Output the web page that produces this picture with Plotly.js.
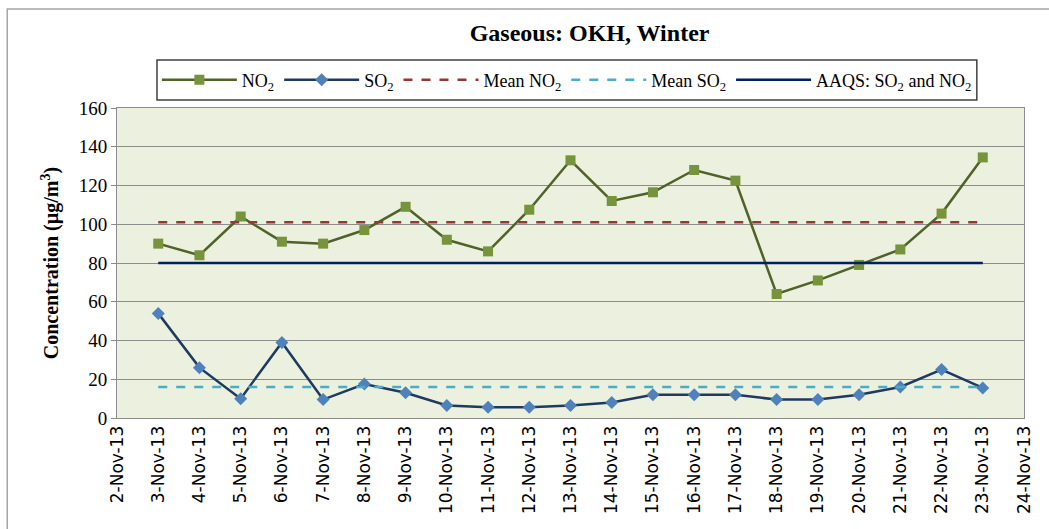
<!DOCTYPE html>
<html>
<head>
<meta charset="utf-8">
<script src="https://cdn.plot.ly/plotly-3.0.1.min.js"></script>
<style>
  html, body { margin: 0; padding: 0; background: #fff; }
  #myDiv { width: 1049px; height: 529px; }
</style>
</head>
<body>
<div id="myDiv"></div>
<script>
// all dates on the axis, 2-Nov-13 .. 24-Nov-13
const allDates = [
  "2-Nov-13", "3-Nov-13", "4-Nov-13", "5-Nov-13", "6-Nov-13", "7-Nov-13",
  "8-Nov-13", "9-Nov-13", "10-Nov-13", "11-Nov-13", "12-Nov-13", "13-Nov-13",
  "14-Nov-13", "15-Nov-13", "16-Nov-13", "17-Nov-13", "18-Nov-13", "19-Nov-13",
  "20-Nov-13", "21-Nov-13", "22-Nov-13", "23-Nov-13", "24-Nov-13"
];
// sampled days
const dates = allDates.slice(1, 22);

const no2 = [90, 84, 104, 91, 90, 97, 109, 92, 86, 107.5, 133, 112, 116.5, 128, 122.5, 64, 71, 79, 87, 105.5, 134.5];
const so2 = [54, 26, 10, 39, 9.5, 17.5, 13, 6.5, 5.5, 5.5, 6.5, 8, 12, 12, 12, 9.5, 9.5, 12, 16, 25, 15.5];

const meanNO2 = 101;
const meanSO2 = 16;
const aaqs = 80;

const serif = "Liberation Serif, Times New Roman, serif";

const trace1 = {
  x: dates,
  y: no2,
  type: "scatter",
  mode: "lines+markers",
  name: "NO<sub>2</sub>",
  line: { color: "#4F6228", width: 2.5 },
  marker: { symbol: "square", size: 10, color: "#77933C" },
};

const trace2 = {
  x: dates,
  y: so2,
  type: "scatter",
  mode: "lines+markers",
  name: "SO<sub>2</sub>",
  line: { color: "#1F3A5F", width: 2.5 },
  marker: { symbol: "diamond", size: 10, color: "#4F81BD" },
};

const trace3 = {
  x: dates,
  y: dates.map(() => meanNO2),
  type: "scatter",
  mode: "lines",
  name: "Mean NO<sub>2</sub>",
  line: { color: "#953735", width: 2.5, dash: "dash" },
};

const trace4 = {
  x: dates,
  y: dates.map(() => meanSO2),
  type: "scatter",
  mode: "lines",
  name: "Mean SO<sub>2</sub>",
  line: { color: "#4BACC6", width: 2.5, dash: "dash" },
};

const trace5 = {
  x: dates,
  y: dates.map(() => aaqs),
  type: "scatter",
  mode: "lines",
  name: "AAQS: SO<sub>2</sub> and NO<sub>2</sub>",
  line: { color: "#002060", width: 2.5 },
};

const data = [trace1, trace2, trace3, trace4, trace5];

const layout = {
  width: 1049,
  height: 529,
  margin: { l: 117, r: 25, t: 108, b: 111 },
  paper_bgcolor: "#ffffff",
  plot_bgcolor: "#EBF1DE",
  showlegend: true,
  title: {
    text: "<b>Gaseous: OKH, Winter</b>",
    font: { family: serif, size: 24, color: "#000" },
    xref: "paper",
    x: 0.521,
    xanchor: "center",
    y: 0.938,
    yanchor: "middle",
  },
  legend: {
    orientation: "h",
    x: 0.496,
    xanchor: "center",
    y: 1.09,
    yanchor: "middle",
    borderwidth: 0,
    bgcolor: "rgba(0,0,0,0)",
    font: { family: serif, size: 18, color: "#000" },
    itemwidth: 75,
  },
  xaxis: {
    type: "category",
    categoryorder: "array",
    categoryarray: allDates,
    tickvals: allDates,
    range: [0, 22],
    tickangle: -90,
    tickfont: { family: "DejaVu Sans, Tahoma, sans-serif", size: 17, color: "#000" },
    showgrid: false,
    showline: true,
    linecolor: "#8C8C8C",
    linewidth: 1,
    mirror: true,
    ticks: "",
    zeroline: false,
  },
  yaxis: {
    range: [0, 160],
    dtick: 20,
    tickfont: { family: serif, size: 19, color: "#000" },
    showgrid: true,
    gridcolor: "#8C8C8C",
    gridwidth: 1,
    showline: true,
    linecolor: "#8C8C8C",
    linewidth: 1,
    mirror: true,
    ticks: "outside",
    ticklen: 5,
    tickcolor: "#8C8C8C",
    zeroline: false,
    title: {
      text: "<b>Concentration (µg/m<sup>3</sup>)</b>",
      font: { family: serif, size: 20, color: "#000" },
      standoff: 14,
    },
  },
  shapes: [
    {
      // outer chart frame
      type: "rect",
      xref: "paper",
      yref: "paper",
      x0: -0.121,
      x1: 1.2,
      y0: -0.5,
      y1: 1.3195,
      line: { color: "#A6A6A6", width: 1.5 },
      layer: "below",
    },
    {
      // legend box
      type: "rect",
      xref: "paper",
      yref: "paper",
      x0: 0.0441,
      x1: 0.948,
      y0: 1.0258,
      y1: 1.1548,
      line: { color: "#404040", width: 1.5 },
      fillcolor: "#ffffff",
      layer: "below",
    },
  ],
};

Plotly.newPlot("myDiv", data, layout, { displayModeBar: false });
</script>
</body>
</html>
